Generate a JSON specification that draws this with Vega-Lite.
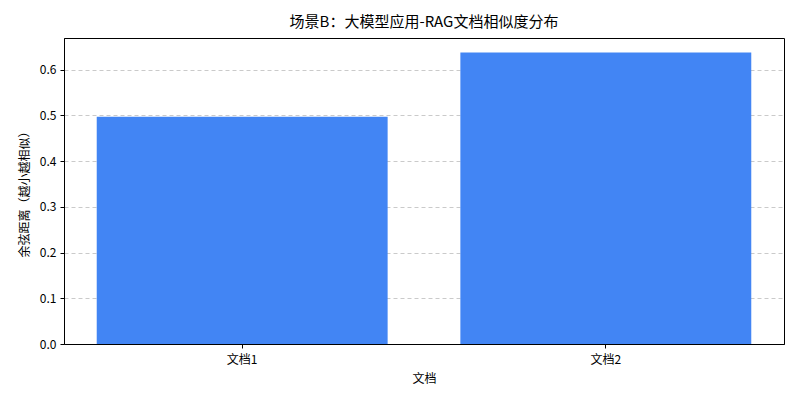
{
  "$schema": "https://vega.github.io/schema/vega-lite/v6.json",
  "width": 720,
  "height": 306,
  "autosize": {"type": "none"},
  "padding": {"left": 64, "top": 38, "right": 16, "bottom": 56},
  "background": "white",
  "title": {
    "text": "场景B：大模型应用-RAG文档相似度分布",
    "font": "Noto Sans CJK SC",
    "fontSize": 15,
    "fontWeight": "normal",
    "color": "black",
    "anchor": "middle",
    "offset": 8
  },
  "data": {
    "values": [
      {"doc": "文档1", "dist": 0.497},
      {"doc": "文档2", "dist": 0.6376}
    ]
  },
  "mark": {"type": "bar", "color": "#4285F4"},
  "encoding": {
    "x": {
      "field": "doc",
      "type": "nominal",
      "title": "文档",
      "scale": {"paddingInner": 0.2, "paddingOuter": 0.09},
      "axis": {
        "labelAngle": 0,
        "labelFont": "Noto Sans CJK SC",
        "labelFontSize": 12,
        "labelColor": "black",
        "titleFont": "Noto Sans CJK SC",
        "titleFontSize": 12,
        "titleFontWeight": "normal",
        "titleColor": "black",
        "tickColor": "black",
        "tickSize": 4,
        "domainColor": "black",
        "labelPadding": 6,
        "titlePadding": 8,
        "grid": false
      }
    },
    "y": {
      "field": "dist",
      "type": "quantitative",
      "title": "余弦距离（越小越相似）",
      "scale": {"domain": [0, 0.6695], "nice": false, "zero": true},
      "axis": {
        "values": [0, 0.1, 0.2, 0.3, 0.4, 0.5, 0.6],
        "format": ".1f",
        "labelFont": "Noto Sans CJK SC",
        "labelFontSize": 12,
        "labelColor": "black",
        "titleFont": "Noto Sans CJK SC",
        "titleFontSize": 12,
        "titleFontWeight": "normal",
        "titleColor": "black",
        "tickColor": "black",
        "tickSize": 4,
        "domainColor": "black",
        "labelPadding": 4,
        "titlePadding": 8,
        "grid": true,
        "gridColor": "#bdbdbd",
        "gridDash": [4, 3],
        "gridWidth": 0.8
      }
    }
  },
  "config": {
    "view": {"stroke": "black", "strokeWidth": 1}
  }
}
